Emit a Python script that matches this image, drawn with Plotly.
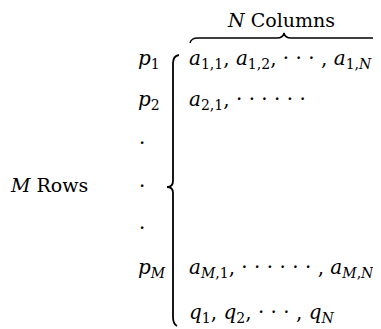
import plotly.graph_objects as go

# Page body has an 8px default margin: use screen-pixel coordinates on the axes.
W, H = 381, 329
OFF = 8

column_header = "<i>N</i> Columns"
row_header = "<i>M</i> Rows"
row_labels = ["<i>p</i><sub>1</sub>", "<i>p</i><sub>2</sub>", "·", "·", "·", "<i>p<sub>M</sub></i>"]
row_entries = [
    "<i>a</i><sub>1,1</sub>, <i>a</i><sub>1,2</sub>, · · · , <i>a</i><sub>1,<i>N</i></sub>",
    "<i>a</i><sub>2,1</sub>, · · · · · ·",
    "",
    "",
    "",
    "<i>a</i><sub><i>M</i>,1</sub>, · · · · · · , <i>a</i><sub><i>M</i>,<i>N</i></sub>",
]
footer_entry = "<i>q</i><sub>1</sub>, <i>q</i><sub>2</sub>, · · · , <i>q</i><sub><i>N</i></sub>"

FONT = "DejaVu Serif"
FS_HEAD = 19
FS = 20

row_y = [59, 100, 143, 186, 228, 268]
foot_y = 313
label_x = 136
dot_x = 142
entry_x = 187

fig = go.Figure()
fig.add_trace(go.Scatter(x=[OFF, W], y=[OFF, H], mode="markers", marker=dict(opacity=0),
                         hoverinfo="skip", showlegend=False))

ann = []
ann.append(dict(x=281, y=20, text=column_header, xanchor="center", yanchor="middle", font_size=FS_HEAD))
ann.append(dict(x=49, y=185, text=row_header, xanchor="center", yanchor="middle", font_size=FS_HEAD))
for lab, ent, y in zip(row_labels, row_entries, row_y):
    if lab == "·":
        ann.append(dict(x=dot_x, y=y, text=lab, xanchor="center", yanchor="middle", font_size=FS))
    else:
        ann.append(dict(x=label_x, y=y, text=lab, xanchor="left", yanchor="middle", font_size=FS))
    if ent:
        ann.append(dict(x=entry_x, y=y, text=ent, xanchor="left", yanchor="middle", font_size=FS))
ann.append(dict(x=entry_x, y=foot_y, text=footer_entry, xanchor="left", yanchor="middle", font_size=FS))
for a in ann:
    fs = a.pop("font_size")
    a.update(xref="x", yref="y", showarrow=False, font=dict(family=FONT, size=fs, color="black"))

vbrace = ("M 179,55 Q 173,56 173,63 L 173,181 Q 173,187 167,187 "
          "Q 173,187 173,193 L 173,317 Q 173,324 177,326")
hbrace = ("M 190,43 Q 191,38 198,38 L 277,38 Q 283,38 284,33 "
          "Q 285,38 291,38 L 372,38 Q 379,38 380,43")
shapes = [
    dict(type="path", path=vbrace, xref="x", yref="y", line=dict(color="black", width=1.8)),
    dict(type="path", path=hbrace, xref="x", yref="y", line=dict(color="black", width=1.4)),
]

fig.update_layout(
    width=W - OFF, height=H - OFF, margin=dict(l=0, r=0, t=0, b=0),
    paper_bgcolor="white", plot_bgcolor="white",
    xaxis=dict(range=[OFF, W], visible=False, fixedrange=True),
    yaxis=dict(range=[H, OFF], visible=False, fixedrange=True),
    annotations=ann, shapes=shapes, showlegend=False,
)
fig.write_html("out.html")
